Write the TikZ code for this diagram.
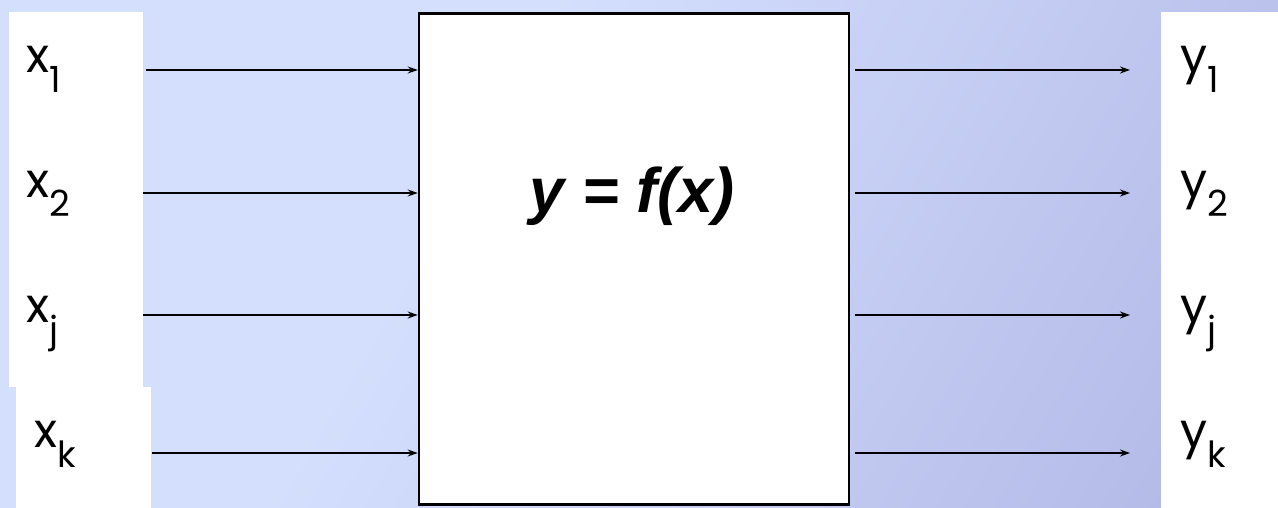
\documentclass[tikz,border=0pt]{standalone}
\usepackage{fontspec}
\setmainfont{Poppins}
\newfontfamily\eqfont{Liberation Sans}
\usetikzlibrary{arrows.meta}
\definecolor{bgA}{RGB}{212,223,254}
\definecolor{bgB}{RGB}{164,168,220}
\pgfdeclarehorizontalshading{bgshade}{100bp}{color(0bp)=(bgA); color(40bp)=(bgA); color(100bp)=(bgB)}
\newcommand\sublabel[2]{#1\raisebox{-20pt}{\fontsize{36}{36}\selectfont #2}}
\begin{document}
\begin{tikzpicture}[x=1pt,y=-1pt,
  lab/.style={inner sep=0pt, anchor=base west, font=\fontsize{48}{48}\selectfont},
  arr/.style={line width=1.3pt, -{Stealth[length=10pt,width=7pt]}},
  pane/.style={fill=white}]
\useasboundingbox (0,0) rectangle (1278,508);
\shade[shading=bgshade, shading angle=-30] (0,0) rectangle (1278,508);
% white panes
\fill[pane] (9,12) rectangle (143,387);
\fill[pane] (16,387) rectangle (151,508);
\fill[pane] (1161,12) rectangle (1278,508);
% central box
\node[draw, line width=2.5pt, fill=white, minimum width=430pt, minimum height=491pt, inner sep=0pt] (box) at (634,259.1) {};
\node[font=\eqfont\bfseries\itshape\fontsize{63}{63}\selectfont, anchor=base, inner sep=0pt] (eq) at (632,213) {y = f(x)};
% labels
\node[lab] (x1) at (26,73) {\sublabel{x}{1}};
\node[lab] (x2) at (26,197) {\sublabel{x}{2}};
\node[lab] (xj) at (26,322) {\sublabel{x}{j}};
\node[lab] (xk) at (34,447) {\sublabel{x}{k}};
\node[lab] (y1) at (1180,73) {\sublabel{y}{1}};
\node[lab] (y2) at (1180,197) {\sublabel{y}{2}};
\node[lab] (yj) at (1180,322) {\sublabel{y}{j}};
\node[lab] (yk) at (1180,447) {\sublabel{y}{k}};
% arrow end points
\coordinate (a1) at (146,70);
\coordinate (a2) at (143,193);
\coordinate (a3) at (143,315);
\coordinate (a4) at (152,453);
\coordinate (b1) at (1130,70);
\coordinate (b2) at (1130,193);
\coordinate (b3) at (1130,315);
\coordinate (b4) at (1130,453);
\foreach \i in {1,2,3,4}{
  \draw[arr] (a\i) -- (a\i -| box.west);
  \draw[arr] ([xshift=5pt]b\i -| box.east) -- (b\i);
}
\end{tikzpicture}
\end{document}
